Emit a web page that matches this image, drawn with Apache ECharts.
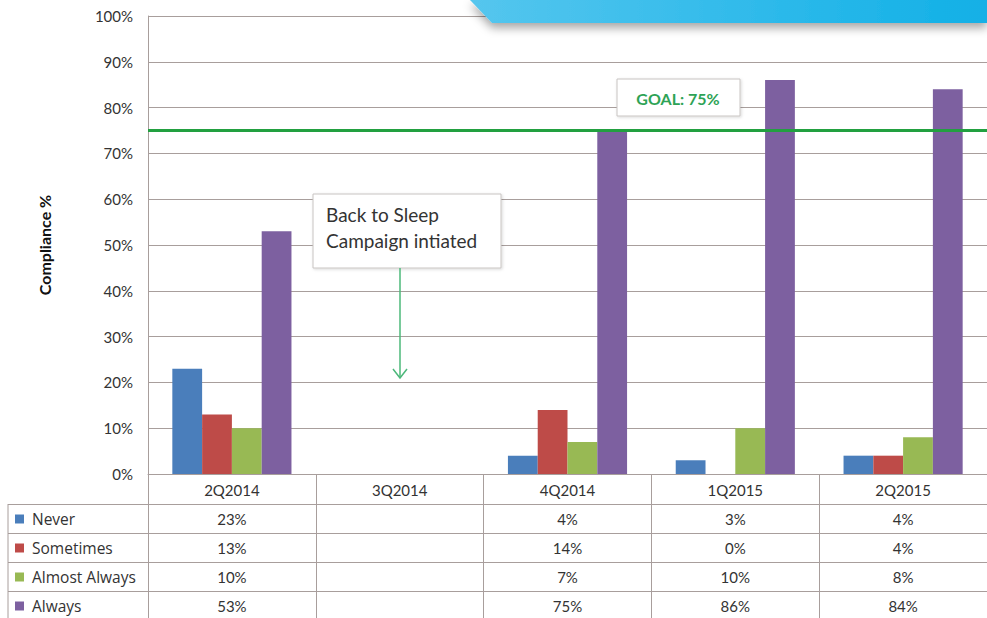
<!DOCTYPE html>
<html>
<head>
<meta charset="utf-8">
<script src="https://cdn.jsdelivr.net/npm/echarts@6/dist/echarts.min.js"></script>
<style>html,body{margin:0;padding:0;background:#fff}#c{width:987px;height:618px}</style>
</head>
<body>
<div id="c"></div>
<script>
var categories = ['2Q2014', '3Q2014', '4Q2014', '1Q2015', '2Q2015'];
var seriesNames = ['Never', 'Sometimes', 'Almost Always', 'Always'];
var never = [23, null, 4, 3, 4];
var sometimes = [13, null, 14, 0, 4];
var almostAlways = [10, null, 7, 10, 8];
var always = [53, null, 75, 86, 84];
var goal = 75;
var yTicks = [0, 10, 20, 30, 40, 50, 60, 70, 80, 90, 100];

var rows = [never, sometimes, almostAlways, always];
var colors = ['#4a7ebb', '#be4b48', '#98b954', '#7d60a0'];
var gridColor = '#a89e9c';
var FONT = 'Lato, "Open Sans", sans-serif';

var chart = echarts.init(document.getElementById('c'), null, {renderer: 'svg'});

var gridLeft = 148, gridTop = 16, gridBottomY = 474, gridWidth = 847;
var rowOffsets = [30, 59, 88, 117];

var xAxes = [{
  type: 'category', data: categories, gridIndex: 0, position: 'bottom',
  boundaryGap: true,
  axisLine: {show: true, lineStyle: {color: gridColor, width: 1}},
  axisTick: {show: true, alignWithLabel: false, length: 144, lineStyle: {color: gridColor, width: 1}},
  axisLabel: {interval: 0, margin: 8, fontSize: 15, color: '#333', fontFamily: FONT}
}];
rows.forEach(function (row, r) {
  xAxes.push({
    type: 'category', data: categories, gridIndex: 0, position: 'bottom',
    offset: rowOffsets[r], boundaryGap: true,
    axisLine: {show: true, lineStyle: {color: gridColor, width: 1}},
    axisTick: {show: false},
    axisLabel: {interval: 0, margin: 7, fontSize: 15, color: '#333', fontFamily: FONT,
      formatter: function (v, i) { return row[i] == null ? '' : row[i] + '%'; }}
  });
});

var series = rows.map(function (row, r) {
  return {
    name: seriesNames[r], type: 'bar', xAxisIndex: 0, yAxisIndex: 0,
    data: row, barGap: '0%', barCategoryGap: '29%',
    itemStyle: {color: colors[r]},
    emphasis: {disabled: true}
  };
});
series[0].markLine = {
  silent: true, symbol: ['none', 'none'],
  label: {show: false},
  lineStyle: {color: '#22a040', width: 3, type: 'solid'},
  data: [{yAxis: goal}]
};

var option = {
  backgroundColor: '#fff',
  animation: false,
  grid: {left: gridLeft, top: gridTop, width: gridWidth, height: gridBottomY - gridTop},
  legend: {
    orient: 'vertical', left: 15, top: 511, padding: 0, itemGap: 13, itemWidth: 9, itemHeight: 9,
    icon: 'rect', selectedMode: false, data: seriesNames,
    textStyle: {fontSize: 15.5, lineHeight: 16, height: 16, color: '#333', fontFamily: '"Open Sans", Lato, sans-serif', padding: [0, 0, 0, 3]}
  },
  xAxis: xAxes,
  yAxis: {
    type: 'value', min: yTicks[0], max: yTicks[yTicks.length - 1], interval: 10,
    name: 'Compliance %', nameLocation: 'middle', nameGap: 96, nameRotate: 90,
    nameTextStyle: {fontSize: 16, fontWeight: 'bold', color: '#111', fontFamily: FONT},
    axisLine: {show: true, lineStyle: {color: gridColor}},
    axisTick: {show: false},
    splitLine: {show: true, lineStyle: {color: gridColor, width: 1}},
    axisLabel: {formatter: '{value}%', fontSize: 15, color: '#333', margin: 15, fontFamily: FONT}
  },
  series: series,
  graphic: [
    {type: 'polygon', shape: {points: [[470, 0], [987, 0], [987, 23], [492, 23]]},
      style: {fill: {type: 'linear', x: 0, y: 0, x2: 1, y2: 0, colorStops: [{offset: 0, color: '#55c6ee'}, {offset: 0.6, color: '#2cb9ea'}, {offset: 1, color: '#12b0e6'}]},
        shadowBlur: 10, shadowOffsetY: 5, shadowColor: 'rgba(0,0,0,0.35)'}, z: 100},
    {type: 'line', shape: {x1: 8, y1: 504, x2: 8, y2: 618}, style: {stroke: gridColor, lineWidth: 1}, z: 50},
    {type: 'line', shape: {x1: 8, y1: 504.5, x2: 148, y2: 504.5}, style: {stroke: gridColor, lineWidth: 1}, z: 50},
    {type: 'line', shape: {x1: 8, y1: 533.5, x2: 148, y2: 533.5}, style: {stroke: gridColor, lineWidth: 1}, z: 50},
    {type: 'line', shape: {x1: 8, y1: 562.5, x2: 148, y2: 562.5}, style: {stroke: gridColor, lineWidth: 1}, z: 50},
    {type: 'line', shape: {x1: 8, y1: 591.5, x2: 148, y2: 591.5}, style: {stroke: gridColor, lineWidth: 1}, z: 50},
    {type: 'rect', shape: {x: 617, y: 79, width: 123, height: 37},
      style: {fill: '#fff', stroke: '#c8c4c2', lineWidth: 1, shadowBlur: 3, shadowOffsetX: 1, shadowOffsetY: 1, shadowColor: 'rgba(0,0,0,0.15)'}, z: 60},
    {type: 'text', x: 678, y: 98, style: {text: 'GOAL: 75%', fill: '#2ea356', font: 'bold 16px ' + FONT, align: 'center', verticalAlign: 'middle'}, z: 61},
    {type: 'rect', shape: {x: 313, y: 194, width: 188, height: 74},
      style: {fill: '#fff', stroke: '#c8c4c2', lineWidth: 1, shadowBlur: 3, shadowOffsetX: 1, shadowOffsetY: 1, shadowColor: 'rgba(0,0,0,0.15)'}, z: 60},
    {type: 'text', x: 326, y: 201, style: {text: 'Back to Sleep\nCampaign intiated', fill: '#333', font: '19px ' + FONT, lineHeight: 26, align: 'left', verticalAlign: 'top'}, z: 61},
    {type: 'line', shape: {x1: 400, y1: 268, x2: 400, y2: 378}, style: {stroke: '#4cb87a', lineWidth: 1.5}, z: 61},
    {type: 'polyline', shape: {points: [[393, 369], [400, 378], [407, 369]]}, style: {stroke: '#4cb87a', lineWidth: 1.5, fill: null}, z: 61}
  ]
};
chart.setOption(option);
</script>
</body>
</html>
